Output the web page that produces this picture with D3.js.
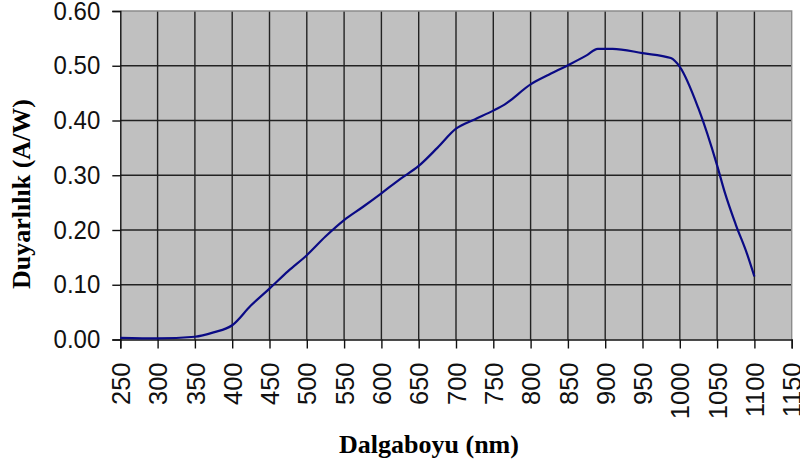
<!DOCTYPE html>
<html>
<head>
<meta charset="utf-8">
<script src="https://cdn.jsdelivr.net/npm/d3@7"></script>
<style>
  html, body { margin: 0; padding: 0; background: #fff; }
  svg { display: block; }
</style>
</head>
<body>
<svg id="chart" width="800" height="467"></svg>
<script>
// Spectral responsivity curve of the photodiode
const wavelength = [250, 300, 350, 375, 400, 425, 450, 475, 500, 525, 550, 575, 600, 625, 650,
                    675, 700, 725, 750, 765, 800, 825, 850, 875, 890, 910, 950, 988, 1000,
                    1025, 1050, 1060, 1075, 1090, 1100];
const responsivity = [0.003, 0.002, 0.005, 0.013, 0.026, 0.062, 0.093, 0.125, 0.154, 0.188, 0.218,
                      0.242, 0.267, 0.293, 0.317, 0.350, 0.385, 0.402, 0.418, 0.429, 0.466, 0.484,
                      0.501, 0.519, 0.531, 0.531, 0.523, 0.514, 0.498, 0.422, 0.318, 0.270, 0.210,
                      0.157, 0.115];

const xTicks = d3.range(250, 1151, 50);
const yTicks = [0, 0.1, 0.2, 0.3, 0.4, 0.5, 0.6];

const xTitle = "Dalgaboyu (nm)";
const yTitle = "Duyarlılık (A/W)";

const svg = d3.select("#chart");
const plot = { left: 120.3, right: 791.7, top: 11, bottom: 339.5 };

const x = d3.scaleLinear().domain([250, 1150]).range([plot.left, plot.right]);
const y = d3.scaleLinear().domain([0, 0.6]).range([plot.bottom, plot.top]);

// plot area
svg.append("rect")
  .attr("x", plot.left).attr("y", plot.top)
  .attr("width", plot.right - plot.left).attr("height", plot.bottom - plot.top)
  .attr("fill", "#c0c0c0");

// grid
const grid = svg.append("g").attr("stroke", "#222").attr("stroke-width", 1.4);
grid.selectAll("line.v").data(xTicks.slice(1, -1)).join("line")
  .attr("x1", d => x(d)).attr("x2", d => x(d))
  .attr("y1", plot.top).attr("y2", plot.bottom);
grid.selectAll("line.h").data(yTicks.slice(1, -1)).join("line")
  .attr("y1", d => y(d)).attr("y2", d => y(d))
  .attr("x1", plot.left).attr("x2", plot.right);

// grey frame on top and right
svg.append("path")
  .attr("d", `M${plot.left},${plot.top}H${plot.right}V${plot.bottom}`)
  .attr("fill", "none").attr("stroke", "#8c8c8c").attr("stroke-width", 1.4);

// axes
const fmtY = d3.format(".2f");
const yAxis = d3.axisLeft(y).tickValues(yTicks).tickFormat(fmtY).tickSize(8).tickPadding(12);
const gy = svg.append("g").attr("transform", `translate(${plot.left},0)`).call(yAxis);
gy.select(".domain").attr("stroke", "#111").attr("stroke-width", 1.4);
gy.selectAll(".tick line").attr("stroke", "#111").attr("stroke-width", 1.4);
gy.selectAll(".tick text")
  .attr("font-family", "Liberation Sans, Arial, sans-serif")
  .attr("font-size", 24).attr("fill", "#111")
  .attr("transform", "scale(1,1.06)");

const xAxis = d3.axisBottom(x).tickValues(xTicks).tickFormat(d3.format("d")).tickSize(9);
const gx = svg.append("g").attr("transform", `translate(0,${plot.bottom})`).call(xAxis);
gx.select(".domain").attr("stroke", "#111").attr("stroke-width", 1.4);
gx.selectAll(".tick line").attr("stroke", "#111").attr("stroke-width", 1.4);
gx.selectAll(".tick text")
  .attr("font-family", "Liberation Sans, Arial, sans-serif")
  .attr("font-size", 25.5).attr("fill", "#111")
  .attr("text-anchor", "end")
  .attr("transform", "rotate(-90)")
  .attr("x", -23).attr("y", 0).attr("dy", "0.36em");

// curve
const line = d3.line().x((d, i) => x(wavelength[i])).y(d => y(d)).curve(d3.curveMonotoneX);
svg.append("path")
  .datum(responsivity)
  .attr("d", line)
  .attr("fill", "none")
  .attr("stroke", "#0a0a85")
  .attr("stroke-width", 2.2)
  .attr("stroke-linejoin", "round");

// axis titles
svg.append("text")
  .attr("x", 429).attr("y", 453)
  .attr("text-anchor", "middle")
  .attr("font-family", "Liberation Serif, Times New Roman, serif")
  .attr("font-weight", "bold").attr("font-size", 26)
  .text(xTitle);

svg.append("text")
  .attr("transform", "translate(30,194) rotate(-90)")
  .attr("text-anchor", "middle")
  .attr("font-family", "Liberation Serif, Times New Roman, serif")
  .attr("font-weight", "bold").attr("font-size", 26)
  .text(yTitle);
</script>
</body>
</html>
